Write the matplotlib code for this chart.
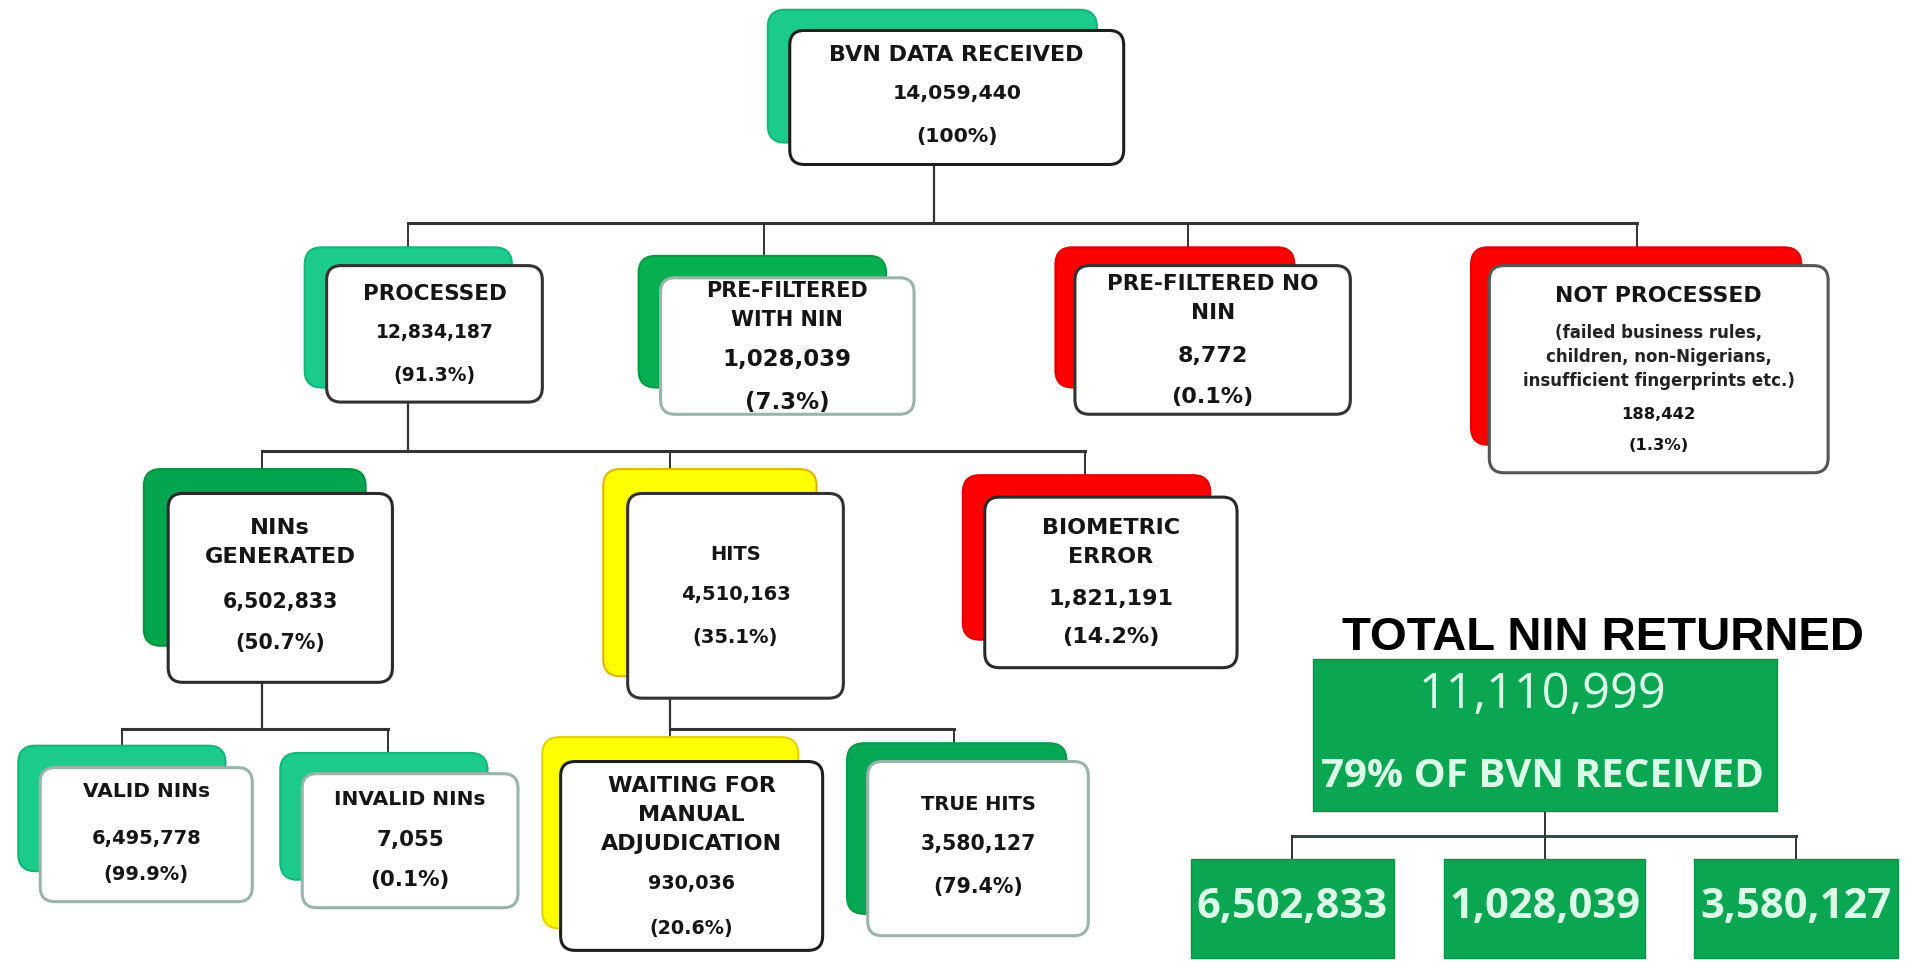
import matplotlib.pyplot as plt
from matplotlib.patches import FancyBboxPatch

# ---- data -------------------------------------------------------------
titles = ["BVN DATA RECEIVED", "PROCESSED", "PRE-FILTERED\nWITH NIN",
          "PRE-FILTERED NO\nNIN", "NOT PROCESSED", "NINs\nGENERATED", "HITS",
          "BIOMETRIC\nERROR", "VALID NINs", "INVALID NINs",
          "WAITING FOR\nMANUAL\nADJUDICATION", "TRUE HITS"]
counts = [14059440, 12834187, 1028039, 8772, 188442, 6502833, 4510163,
          1821191, 6495778, 7055, 930036, 3580127]
shares = [100, 91.3, 7.3, 0.1, 1.3, 50.7, 35.1, 14.2, 99.9, 0.1, 20.6, 79.4]
not_processed_note = ["(failed business rules,", "children, non-Nigerians,",
                      "insufficient fingerprints etc.)"]
parents = [None, 0, 0, 0, 0, 1, 1, 1, 5, 5, 6, 6]

total_title = "TOTAL NIN RETURNED"
total_returned = 11110999
total_share = 79
total_parts = [6502833, 1028039, 3580127]

# ---- layout (reference pixels, shrunk scale 1568 x 792) -----------------
front = [(648, 25, 922, 135), (268, 218, 445, 330), (542, 228, 750, 340),
         (882, 218, 1108, 340), (1222, 218, 1500, 388), (138, 405, 322, 560),
         (515, 405, 692, 573), (808, 408, 1015, 548), (33, 630, 207, 740),
         (248, 635, 425, 745), (460, 625, 675, 780), (712, 625, 893, 768)]
back = [(630, 8, 900, 117), (250, 203, 420, 318), (524, 210, 727, 318),
        (866, 203, 1062, 318), (1207, 203, 1478, 365), (118, 385, 300, 530),
        (495, 385, 670, 555), (790, 390, 993, 525), (15, 612, 185, 715),
        (230, 618, 400, 722), (445, 605, 655, 762), (695, 610, 875, 750)]
back_colors = ["#1ccb8c", "#1ccb8c", "#05b050", "#ff0000", "#ff0000",
               "#03a54e", "#ffff00", "#ff0000", "#1ccb8c", "#1ccb8c",
               "#ffff00", "#06a856"]
back_edges = ["#12b57a", "#12b57a", "#049a45", "#e00000", "#e00000",
              "#02913f", "#e0b400", "#e00000", "#12b57a", "#12b57a",
              "#e6d000", "#049a4a"]
front_edges = ["#1e1e1e", "#333333", "#9bb3ad", "#333333", "#555555",
               "#2a2a2a", "#333333", "#2a2a2a", "#9bb3ad", "#9bb3ad",
               "#1e1e1e", "#9bb3ad"]
title_fs = [16, 15.5, 15, 15.5, 15.8, 16.2, 14, 16, 14.5, 14.5, 16, 14]
num_fs = [14.7, 13.5, 16.5, 16, 11.8, 14.8, 14, 16, 14, 15.5, 13.8, 14.8]
title_y = [45, 241, 239, 233, 243, 433, 455, 433, 650, 656, 645, 660]
line_step = 24
count_y = [77, 273, 295, 292, 340, 494, 488, 492, 688, 689, 725, 693]
share_y = [112, 308, 330, 326, 366, 528, 523, 523, 718, 722, 762, 728]
note_y = [273, 293, 313]

# connector bars: y of the horizontal bar under each parent, child drop x
bar_y = {0: 183, 1: 370, 5: 598, 6: 598}
drop_x = [766, 335, 627, 975, 1343, 215, 550, 890, 100, 318, 550, 783]

FONT = "DejaVu Sans"
TXT = "#151515"
GREEN = "#0aa651"
MINT = "#dcffe9"

fig = plt.figure(figsize=(19.11, 9.65), dpi=100)
ax = fig.add_axes([0, 0, 1, 1])
ax.set_xlim(0, 1568)
ax.set_ylim(792, 0)
ax.axis("off")


def rbox(x0, y0, x1, y1, fc, ec, lw, r=12, z=2):
    p = FancyBboxPatch((x0, y0), x1 - x0, y1 - y0,
                       boxstyle=f"round,pad=0,rounding_size={r}",
                       fc=fc, ec=ec, lw=lw, zorder=z)
    ax.add_patch(p)


# connectors
for parent, y in bar_y.items():
    kids = [i for i, p in enumerate(parents) if p == parent]
    xs = [drop_x[i] for i in kids]
    px = drop_x[parent]
    ax.plot([px, px], [front[parent][3], y], color="#333333", lw=1.6, zorder=1)
    ax.plot([min(xs + [px]), max(xs + [px])], [y, y], color="#333333",
            lw=2.2, zorder=1)
    for i in kids:
        ax.plot([drop_x[i], drop_x[i]], [y, back[i][1] + 2],
                color="#333333", lw=1.4, zorder=1)

# nodes
for i, t in enumerate(titles):
    rbox(*back[i], back_colors[i], back_edges[i], 1.5, r=14, z=2)
    rbox(*front[i], "white", front_edges[i], 2.2, r=12, z=3)
    cx = (front[i][0] + front[i][2]) / 2
    for k, line in enumerate(t.split("\n")):
        ax.text(cx, title_y[i] + k * line_step, line, ha="center",
                va="center", fontsize=title_fs[i], fontweight="bold",
                color=TXT, family=FONT, zorder=4)
    if i == 4:
        for line, y in zip(not_processed_note, note_y):
            ax.text(cx, y, line, ha="center", va="center", fontsize=12,
                    fontweight="bold", color="#222222", family=FONT,
                    zorder=4)
    ax.text(cx, count_y[i], f"{counts[i]:,}", ha="center", va="center",
            fontsize=num_fs[i], fontweight="bold", color=TXT, family=FONT,
            zorder=4)
    ax.text(cx, share_y[i], f"({shares[i]:g}%)", ha="center", va="center",
            fontsize=num_fs[i], fontweight="bold", color=TXT, family=FONT,
            zorder=4)

# total NIN returned panel
ax.text(1315, 524, total_title, ha="center", va="center", fontsize=34,
        fontweight="bold", color="black", family="Liberation Sans")
ax.add_patch(plt.Rectangle((1077, 541), 381, 125, fc=GREEN, ec="#07934a",
                           lw=1, zorder=2))
ax.text(1266, 571, f"{total_returned:,}", ha="center", va="center",
        fontsize=35, color=MINT, family="Open Sans", zorder=3)
ax.text(1266, 637, f"{total_share}% OF BVN RECEIVED", ha="center",
        va="center", fontsize=29, fontweight="bold", color=MINT,
        family="Open Sans", zorder=3)

part_x = [(977, 1144), (1185, 1350), (1390, 1557)]
ax.plot([1268, 1268], [666, 686], color="#333333", lw=1.4, zorder=1)
ax.plot([1060, 1474], [686, 686], color="#3a4a48", lw=2.2, zorder=1)
for (x0, x1), v in zip(part_x, total_parts):
    cx = (x0 + x1) / 2
    ax.plot([cx, cx], [686, 705], color="#333333", lw=1.4, zorder=1)
    ax.add_patch(plt.Rectangle((x0, 705), x1 - x0, 81, fc=GREEN,
                               ec="#07934a", lw=1, zorder=2))
    ax.text(cx, 745, f"{v:,}", ha="center", va="center", fontsize=30,
            fontweight="bold", color=MINT, family="Open Sans", zorder=3)

fig.savefig("out.png", dpi=100, facecolor="white")
